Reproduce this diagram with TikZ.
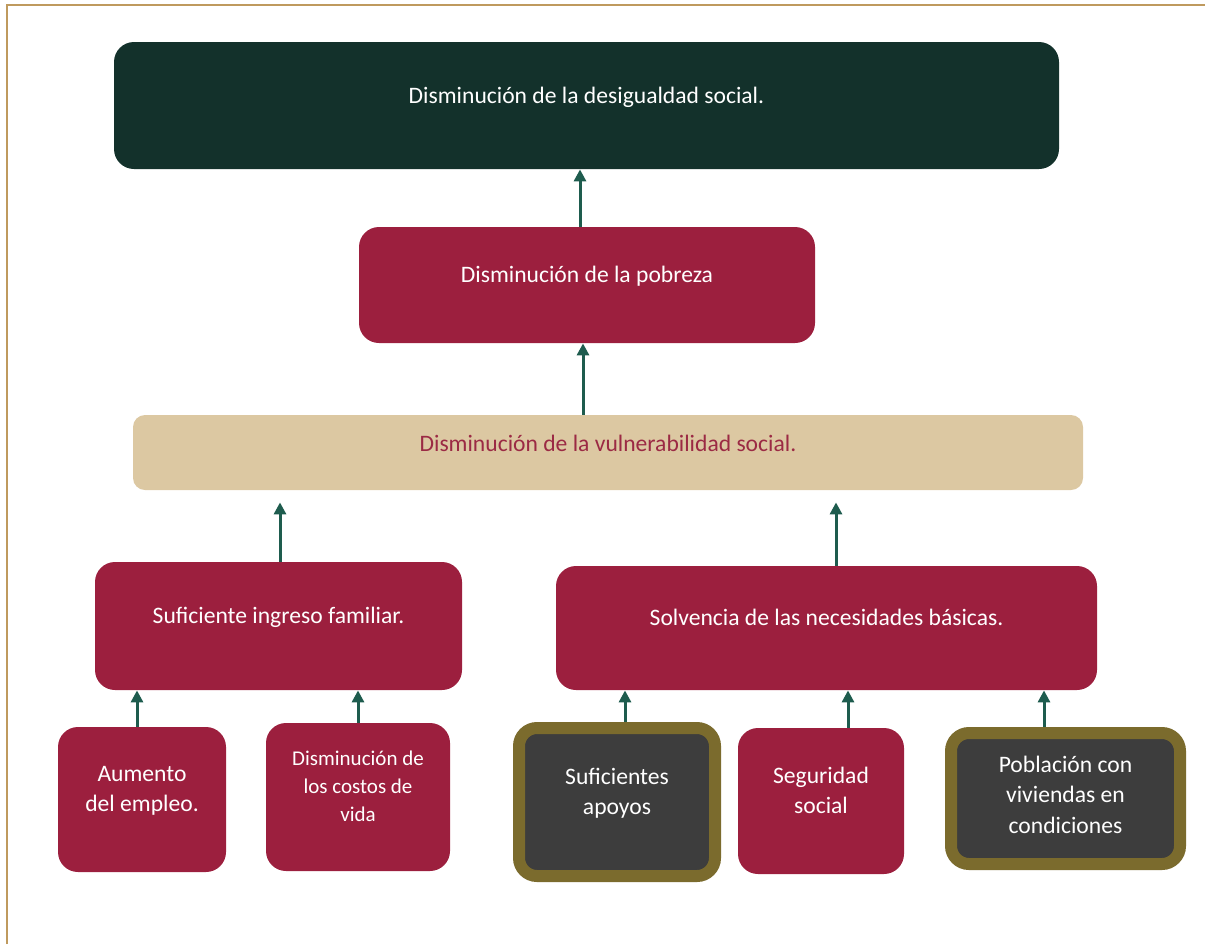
\documentclass[tikz,border=0pt]{standalone}
\usepackage{fontspec}
\setmainfont{Carlito}
\usetikzlibrary{arrows.meta}
\definecolor{deepgreen}{HTML}{13312B}
\definecolor{crimson}{HTML}{9C1F3E}
\definecolor{sand}{HTML}{DCC8A2}
\definecolor{sandtext}{HTML}{9B2A44}
\definecolor{olive}{HTML}{7B6B2D}
\definecolor{slate}{HTML}{3D3D3D}
\definecolor{arrowgreen}{HTML}{1E5C4E}
\definecolor{framegold}{HTML}{BF9A5E}

\begin{document}
\begin{tikzpicture}[x=0.5pt,y=-0.5pt,
	wh/.style 2 args={minimum width=#1*0.5pt, minimum height=#2*0.5pt},
	box/.style={rounded corners=10pt, fill=crimson, text=white, align=center,
		inner sep=0pt, font=\fontsize{11.8}{15.2}\selectfont, text depth=10.5pt},
	topbox/.style={box, fill=deepgreen},
	tanbox/.style={box, fill=sand, text=sandtext, rounded corners=6pt, text depth=9.5pt},
	olivebox/.style={box, fill=slate, draw=olive, line width=6pt, rounded corners=9pt},
	up/.style={draw=arrowgreen, line width=1.5pt, -{Triangle[length=6pt,width=6pt]}}]
\useasboundingbox (0,0) rectangle (1205,944);
\draw[framegold, line width=1pt] (7,944) -- (7,5) -- (1205,5);

\node[topbox, wh={945}{127}] (desig) at (586.5,105.5) {Disminución de la desigualdad social.};
\node[box, wh={456}{116}] (pobreza) at (587,285) {Disminución de la pobreza};
\node[tanbox, wh={950}{75}] (vulner) at (608,452.5) {Disminución de la vulnerabilidad social.};
\node[box, wh={367}{128}] (ingreso) at (278.5,626) {Suficiente ingreso familiar.};
\node[box, wh={541}{124}] (basicas) at (826.5,628) {Solvencia de las necesidades básicas.};
\node[box, wh={168}{145}] (empleo) at (142,799.5) {Aumento\\del empleo.};
\node[box, wh={184}{148}, font=\fontsize{10.5}{14}\selectfont] (costos) at (358,797) {Disminución de\\los costos de\\vida};
\node[olivebox, wh={196}{148}] (apoyos) at (617,802) {Suficientes\\apoyos};
\node[box, wh={166}{146}] (seguridad) at (821,801) {Seguridad\\social};
\node[olivebox, wh={229}{131}, text depth=4pt] (viviendas) at (1065.5,798.5) {Población con\\viviendas en\\condiciones};

\draw[up] ([xshift=-3.5pt]pobreza.north) -- ([xshift=-3.5pt]pobreza.north |- desig.south);
\draw[up] ([xshift=-12.5pt]vulner.north) -- ([xshift=-12.5pt]vulner.north |- pobreza.south);
\draw[up, shorten >=6pt] ([xshift=0.75pt]ingreso.north) -- ([xshift=0.75pt]ingreso.north |- vulner.south);
\draw[up, shorten >=6pt] ([xshift=4.75pt]basicas.north) -- ([xshift=4.75pt]basicas.north |- vulner.south);
\draw[up] ([xshift=-2.5pt]empleo.north) -- ([xshift=-2.5pt]empleo.north |- ingreso.south);
\draw[up] (costos.north) -- (costos.north |- ingreso.south);
\draw[up] ([xshift=4pt]apoyos.north) -- ([xshift=4pt]apoyos.north |- basicas.south);
\draw[up] ([xshift=13.5pt]seguridad.north) -- ([xshift=13.5pt]seguridad.north |- basicas.south);
\draw[up] ([xshift=-10.75pt]viviendas.north) -- ([xshift=-10.75pt]viviendas.north |- basicas.south);
\end{tikzpicture}
\end{document}
